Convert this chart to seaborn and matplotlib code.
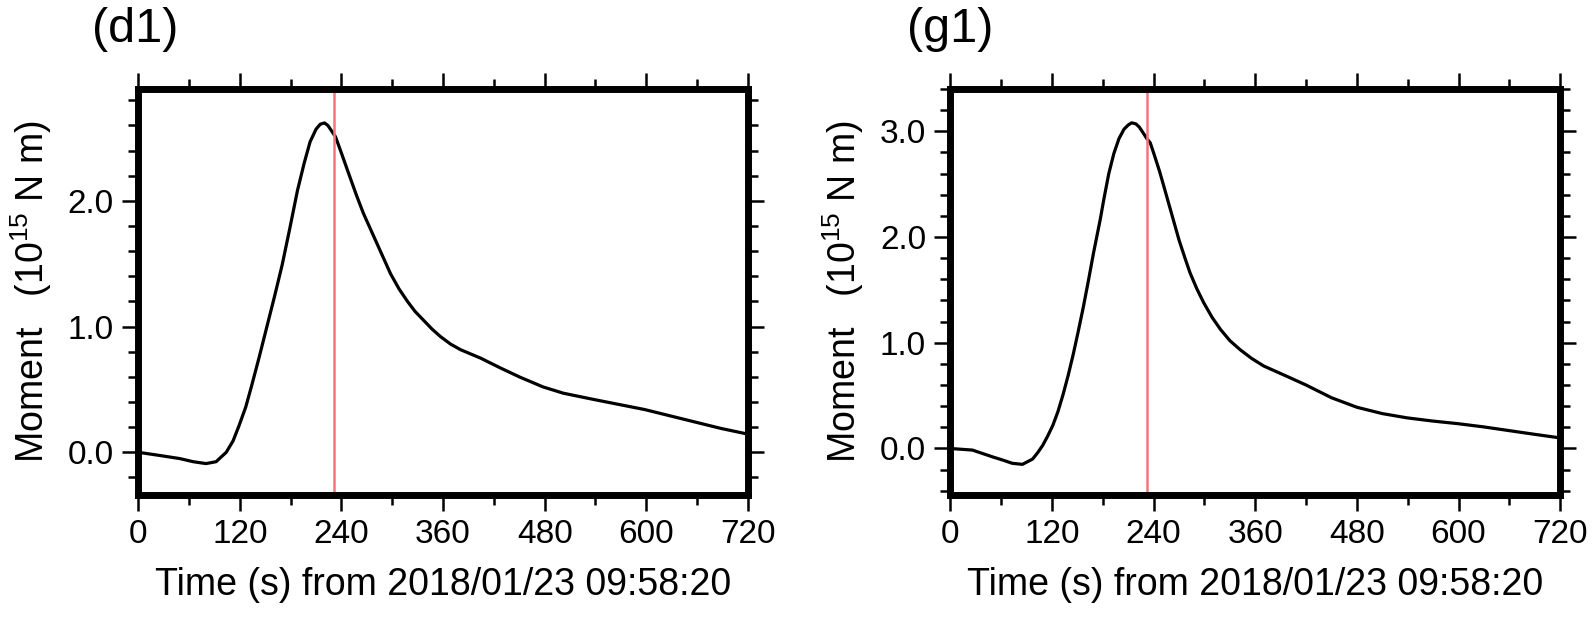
import matplotlib
matplotlib.use('Agg')
import matplotlib.pyplot as plt
import seaborn as sns
import pandas as pd
from matplotlib.ticker import MultipleLocator

# moment rate functions (time s, 1e15 N m)
t_d1 = [0, 25, 49, 65, 80, 92, 104, 112, 119, 127, 134, 143, 152, 161, 170, 179, 188, 196, 203,
        210, 215, 220, 224, 228, 233, 240, 250, 258, 266, 274, 282, 290, 298, 308, 318, 327, 337,
        347, 357, 369, 381, 404, 428, 450, 478, 502, 538, 568, 598, 628, 658, 688, 716, 720]
m_d1 = [0.0, -0.025, -0.05, -0.075, -0.09, -0.075, 0.0, 0.09, 0.21, 0.36, 0.53, 0.76, 1.0, 1.24,
        1.49, 1.78, 2.08, 2.3, 2.47, 2.57, 2.61, 2.62, 2.6, 2.56, 2.51, 2.38, 2.19, 2.04, 1.9,
        1.78, 1.66, 1.54, 1.42, 1.3, 1.2, 1.12, 1.05, 0.98, 0.92, 0.86, 0.815, 0.75, 0.67, 0.6,
        0.52, 0.47, 0.42, 0.38, 0.34, 0.29, 0.24, 0.19, 0.15, 0.14]

t_g1 = [0, 26, 50, 62, 73, 85, 97, 103, 109, 115, 121, 127, 133, 139, 145, 151, 157, 163, 169,
        177, 181, 187, 193, 199, 205, 210, 214, 219, 223, 228, 232, 236, 241, 247, 252, 258, 264,
        270, 277, 283, 291, 299, 309, 319, 330, 342, 356, 370, 384, 398, 420, 450, 480, 510, 539,
        569, 599, 629, 659, 689, 720]
m_g1 = [0.0, -0.015, -0.08, -0.11, -0.14, -0.15, -0.1, -0.04, 0.03, 0.12, 0.22, 0.35, 0.51, 0.69,
        0.89, 1.11, 1.34, 1.59, 1.85, 2.17, 2.35, 2.6, 2.79, 2.93, 3.02, 3.06, 3.08, 3.07, 3.04,
        2.98, 2.93, 2.89, 2.77, 2.62, 2.48, 2.31, 2.14, 1.97, 1.8, 1.66, 1.51, 1.38, 1.24, 1.125,
        1.02, 0.935, 0.85, 0.78, 0.73, 0.68, 0.6, 0.48, 0.39, 0.33, 0.29, 0.26, 0.235, 0.205,
        0.17, 0.135, 0.1]

t_mark = [231, 232]
panel_labels = ['(d1)', '(g1)']
ylims = [(-0.34, 2.89), (-0.44, 3.40)]
xlabel = 'Time (s) from 2018/01/23 09:58:20'
ylabel = 'Moment   (10$^{15}$ N m)'

sns.set_style('ticks')
plt.rcParams['font.family'] = ['Liberation Sans', 'DejaVu Sans']
plt.rcParams['mathtext.fontset'] = 'custom'
plt.rcParams['mathtext.rm'] = 'Liberation Sans'
plt.rcParams['mathtext.it'] = 'Liberation Sans:italic'
plt.rcParams['text.color'] = 'black'
plt.rcParams['axes.labelcolor'] = 'black'

fig = plt.figure(figsize=(15.92, 6.18), dpi=100)
axes = [fig.add_axes([0.0868, 0.199, 0.383, 0.657]),
        fig.add_axes([0.5970, 0.199, 0.383, 0.657])]

series = [(t_d1, m_d1), (t_g1, m_g1)]
title_x = [0.058, 0.570]

for i, ax in enumerate(axes):
    t, m = series[i]
    df = pd.DataFrame({'t': t, 'm': m})
    sns.lineplot(data=df, x='t', y='m', ax=ax, color='black', lw=2.3, sort=False)
    ax.axvline(t_mark[i], color='#f07878', lw=1.8)
    ax.set_xlim(0, 720)
    ax.set_ylim(*ylims[i])
    ax.xaxis.set_major_locator(MultipleLocator(120))
    ax.xaxis.set_minor_locator(MultipleLocator(60))
    ax.yaxis.set_major_locator(MultipleLocator(1.0))
    ax.yaxis.set_minor_locator(MultipleLocator(0.2))
    ax.yaxis.set_major_formatter(plt.FormatStrFormatter('%.1f'))
    ax.tick_params(which='both', direction='out', top=True, right=True, width=1.8,
                   labelsize=24, colors='black')
    ax.tick_params(which='major', length=11.5, pad=6)
    ax.tick_params(which='minor', length=7)
    for s in ax.spines.values():
        s.set_linewidth(5)
        s.set_color('black')
    ax.set_xlabel(xlabel, fontsize=27, labelpad=12)
    ax.set_ylabel(ylabel, fontsize=27, labelpad=10)
    fig.text(title_x[i], 0.953, panel_labels[i], fontsize=35, va='center', ha='left')

fig.savefig('out.png', dpi=100)
